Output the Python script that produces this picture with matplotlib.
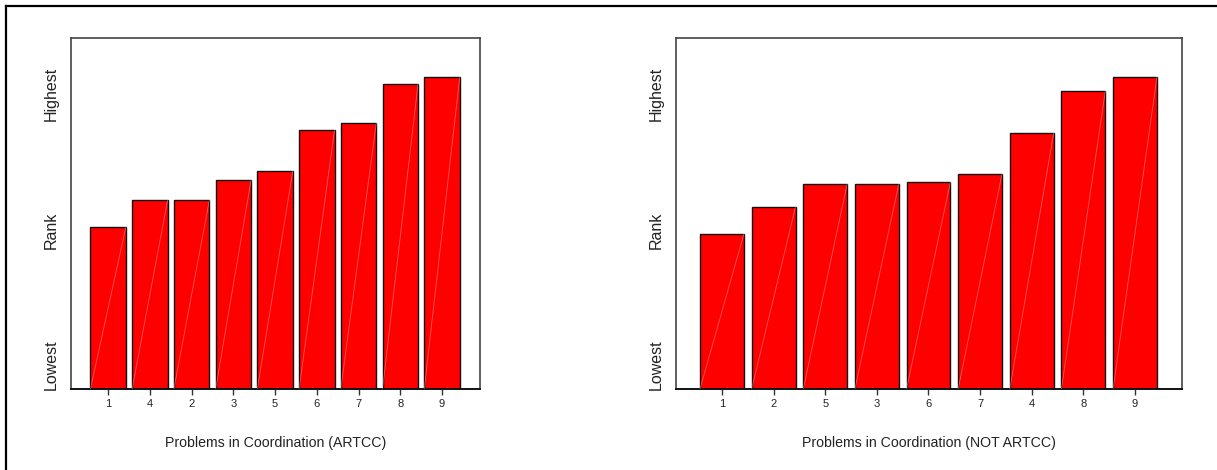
import matplotlib
matplotlib.use("Agg")
import matplotlib.pyplot as plt
from matplotlib.lines import Line2D

plt.rcParams["font.family"] = ["Liberation Sans", "DejaVu Sans"]

# ranks (0 = lowest, 100 = top of the axes)
artcc_labels = ["1", "4", "2", "3", "5", "6", "7", "8", "9"]
artcc_values = [46.2, 53.8, 53.8, 59.5, 62.1, 73.8, 75.8, 86.9, 88.9]

not_artcc_labels = ["1", "2", "5", "3", "6", "7", "4", "8", "9"]
not_artcc_values = [44.2, 51.9, 58.4, 58.4, 59.0, 61.3, 72.9, 84.9, 88.9]

panels = [
    (artcc_labels, artcc_values, "Problems in Coordination (ARTCC)",
     [71 / 1217, 1 - 389 / 470, 409 / 1217, 351 / 470]),
    (not_artcc_labels, not_artcc_values, "Problems in Coordination (NOT ARTCC)",
     [676 / 1217, 1 - 389 / 470, 506 / 1217, 351 / 470]),
]

fig = plt.figure(figsize=(12.17, 4.7), dpi=100)

for labels, values, xlabel, rect in panels:
    ax = fig.add_axes(rect)
    xs = range(len(values))
    bars = ax.bar(xs, values, width=0.85, color="#ff0000",
                  edgecolor="#111111", linewidth=1.0, zorder=2)

    # faint seam across each bar, as in the original rendering
    for b in bars:
        x0, y0 = b.get_x(), b.get_y()
        ax.plot([x0, x0 + b.get_width()], [y0, y0 + b.get_height()],
                color="white", lw=0.6, alpha=0.35, zorder=3)

    ax.set_xlim(-0.89, 8.91)
    ax.set_ylim(0, 100)
    ax.set_xticks(list(xs))
    ax.set_xticklabels(labels, fontsize=8, color="#222222")
    ax.set_yticks([])
    ax.tick_params(axis="x", length=4, width=1, pad=3, color="#333333")

    for side in ["top", "right", "left"]:
        ax.spines[side].set_color("#444444")
        ax.spines[side].set_linewidth(1.2)
    ax.spines["bottom"].set_color("#111111")
    ax.spines["bottom"].set_linewidth(1.4)

    ax.set_xlabel(xlabel, fontsize=10.2, labelpad=20, color="#222222")

    # rank words along the y axis
    for word, frac in [("Lowest", 0.069), ("Rank", 0.4516), ("Highest", 0.8405)]:
        ax.annotate(word, xy=(0, frac), xycoords="axes fraction",
                    xytext=(-20, 0), textcoords="offset pixels",
                    rotation=90, ha="center", va="center",
                    fontsize=11.5, color="#222222")

# frame lines at top and left of the figure
fig.add_artist(Line2D([0.0053, 1.0], [0.988, 0.988], transform=fig.transFigure,
                      color="black", lw=1.6))
fig.add_artist(Line2D([0.0053, 0.0053], [0.0, 0.988], transform=fig.transFigure,
                      color="black", lw=1.6))

fig.savefig("out.png", dpi=100)
